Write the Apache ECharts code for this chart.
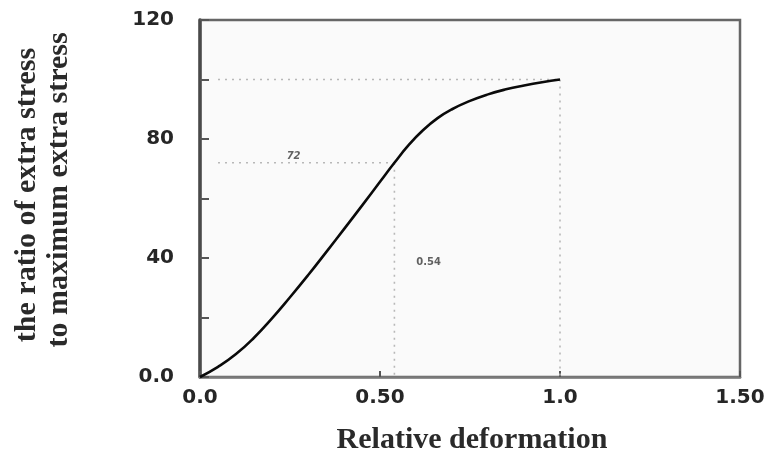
<!DOCTYPE html>
<html>
<head>
<meta charset="utf-8">
<script src="https://cdn.jsdelivr.net/npm/echarts@6/dist/echarts.min.js"></script>
<style>
  html, body { margin: 0; padding: 0; background: #ffffff; }
  #chart { width: 771px; height: 463px; }
</style>
</head>
<body>
<div id="chart"></div>
<script>
// Relative deformation (x) vs. ratio of extra stress to its maximum (y, %)
const deformation = [0, 0.05, 0.10, 0.15, 0.20, 0.25, 0.30, 0.35, 0.40, 0.45, 0.50,
                     0.54, 0.58, 0.62, 0.66, 0.70, 0.75, 0.80, 0.85, 0.90, 0.95, 1.00];
const stressRatio = [0, 3.4, 7.7, 13.2, 19.7, 26.8, 34.2, 41.9, 49.7, 57.6, 65.6,
                     72, 78, 83, 87, 90, 92.8, 95, 96.7, 98, 99.1, 100];

// Reference point marked on the curve and the peak
const refDeformation = 0.54;
const refRatio = 72;
const peakDeformation = 1.0;
const peakRatio = 100;

// Axis tick labels
const xTickValues = [0, 0.5, 1.0, 1.5];
const xTickLabels = ['0.0', '0.50', '1.0', '1.50'];
const yTickValues = [0, 40, 80, 120];
const yTickLabels = ['0.0', '40', '80', '120'];

const curve = deformation.map((d, i) => [d, stressRatio[i]]);
const guideStart = 0.05;

const chart = echarts.init(document.getElementById('chart'), null, { renderer: 'canvas' });

const tickFont = {
  fontFamily: 'DejaVu Sans',
  fontWeight: 'bold',
  fontSize: 20,
  color: '#262626'
};

const guideStyle = { color: '#b8b8b8', width: 1.6, type: [2, 5] };
const titleFont = 'bold 30px "Liberation Serif", "Times New Roman", serif';

chart.setOption({
  backgroundColor: '#ffffff',
  animation: false,
  grid: {
    left: 200, right: 31, top: 20, bottom: 86,
    show: true,
    backgroundColor: '#fafafa',
    borderColor: '#666666',
    borderWidth: 2.5
  },
  xAxis: {
    type: 'value',
    min: 0, max: 1.5, interval: 0.5,
    axisLine: { show: true, lineStyle: { color: '#7a7a7a', width: 2.5 } },
    axisTick: { show: true, inside: true, length: 6, lineStyle: { color: '#555', width: 2 } },
    splitLine: { show: false },
    axisLabel: Object.assign({}, tickFont, {
      margin: 11,
      formatter: v => {
        const k = xTickValues.findIndex(t => Math.abs(t - v) < 1e-9);
        return k >= 0 ? xTickLabels[k] : '';
      }
    })
  },
  yAxis: {
    type: 'value',
    min: 0, max: 120, interval: 20,
    axisLine: { show: true, lineStyle: { color: '#4a4a4a', width: 3.5 } },
    axisTick: { show: true, inside: true, length: 9, lineStyle: { color: '#555', width: 2 } },
    splitLine: { show: false },
    axisLabel: Object.assign({}, tickFont, {
      margin: 26,
      formatter: v => {
        const k = yTickValues.findIndex(t => Math.abs(t - v) < 1e-9);
        return k >= 0 ? yTickLabels[k] : '';
      }
    })
  },
  series: [
    {
      name: 'ref-h',
      type: 'line',
      data: [[guideStart, refRatio], [refDeformation, refRatio]],
      symbol: 'none',
      lineStyle: guideStyle,
      z: 2
    },
    {
      name: 'ref-v',
      type: 'line',
      data: [[refDeformation, refRatio], [refDeformation, 0]],
      symbol: 'none',
      lineStyle: guideStyle,
      z: 2
    },
    {
      name: 'peak-h',
      type: 'line',
      data: [[guideStart, peakRatio], [peakDeformation, peakRatio]],
      symbol: 'none',
      lineStyle: guideStyle,
      z: 2
    },
    {
      name: 'peak-v',
      type: 'line',
      data: [[peakDeformation, peakRatio], [peakDeformation, 0]],
      symbol: 'none',
      lineStyle: guideStyle,
      z: 2
    },
    {
      name: 'annotations',
      type: 'scatter',
      symbolSize: 0,
      silent: true,
      data: [
        { value: [0.26, refRatio], label: { formatter: String(refRatio), fontStyle: 'italic', offset: [0, -6] } },
        { value: [0.635, 38.5], label: { formatter: String(refDeformation) } }
      ],
      label: {
        show: true,
        position: 'inside',
        fontFamily: 'DejaVu Sans',
        fontWeight: 'bold',
        fontSize: 10,
        color: '#3a3a3a'
      },
      z: 4
    },
    {
      name: 'stress ratio',
      type: 'line',
      data: curve,
      smooth: 0.5,
      symbol: 'none',
      lineStyle: { color: '#0a0a0a', width: 2.6 },
      z: 5
    }
  ],
  graphic: [
    {
      type: 'text',
      x: 472,
      y: 440,
      style: {
        text: 'Relative deformation',
        font: titleFont,
        fill: '#2a2a2a',
        align: 'center',
        verticalAlign: 'middle'
      }
    },
    {
      type: 'text',
      x: 27,
      y: 195,
      rotation: Math.PI / 2,
      style: {
        text: 'the ratio of extra stress',
        font: titleFont,
        fill: '#2a2a2a',
        align: 'center',
        verticalAlign: 'middle'
      }
    },
    {
      type: 'text',
      x: 59,
      y: 190,
      rotation: Math.PI / 2,
      style: {
        text: 'to maximum extra stress',
        font: titleFont,
        fill: '#2a2a2a',
        align: 'center',
        verticalAlign: 'middle'
      }
    }
  ]
});
</script>
</body>
</html>
